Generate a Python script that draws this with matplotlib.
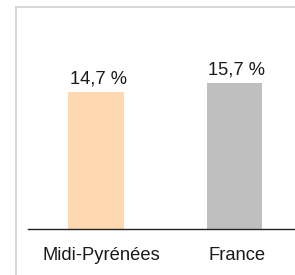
import matplotlib
matplotlib.use("Agg")
import matplotlib.pyplot as plt
import matplotlib.transforms as mtransforms
from matplotlib.lines import Line2D

# data
regions = ["Midi-Pyrénées", "France"]
rates = [14.7, 15.7]
labels = ["14,7 %", "15,7 %"]
colors = ["#fdd8b0", "#bfbfbf"]

plt.rcParams["font.family"] = ["Liberation Sans", "DejaVu Sans"]

W, H = 295, 275
fig = plt.figure(figsize=(W / 100, H / 100), dpi=100)
ax = fig.add_axes([28 / W, (H - 229) / H, 1 - 28 / W, (229 - 20) / H])

x = list(range(len(regions)))
bars = ax.bar(x, rates, width=0.40, color=colors)
for b, lab in zip(bars, labels):
    ax.annotate(lab, (b.get_x() + b.get_width() / 2, b.get_height()),
                xytext=(1.5, 6), textcoords="offset points",
                ha="center", va="baseline", fontsize=13.2, color="#1a1a1a")

ax.set_xlim(-0.491, 1.437)
ax.set_ylim(0, 22.4)
ax.set_xticks(x)
ax.set_xticklabels(regions, fontsize=13.2, color="#1a1a1a")
ax.tick_params(axis="x", length=0, pad=13)
# labels sit a little right of the bar centres
for i, t in enumerate(ax.get_xticklabels()):
    dx = 5 if i == 0 else 3
    t.set_transform(t.get_transform() + mtransforms.ScaledTranslation(dx / 100, 0, fig.dpi_scale_trans))
ax.set_yticks([])
for s in ["top", "right", "left"]:
    ax.spines[s].set_visible(False)
ax.spines["bottom"].set_color("#222222")
ax.spines["bottom"].set_linewidth(1.0)

# light frame on the left and top
fig.add_artist(Line2D([15.5 / W, 15.5 / W], [0, (H - 6.5) / H], color="#d4d4d4", lw=1.3))
fig.add_artist(Line2D([15.5 / W, 1], [(H - 6.5) / H, (H - 6.5) / H], color="#d4d4d4", lw=1.3))

fig.savefig("out.png", dpi=100)
